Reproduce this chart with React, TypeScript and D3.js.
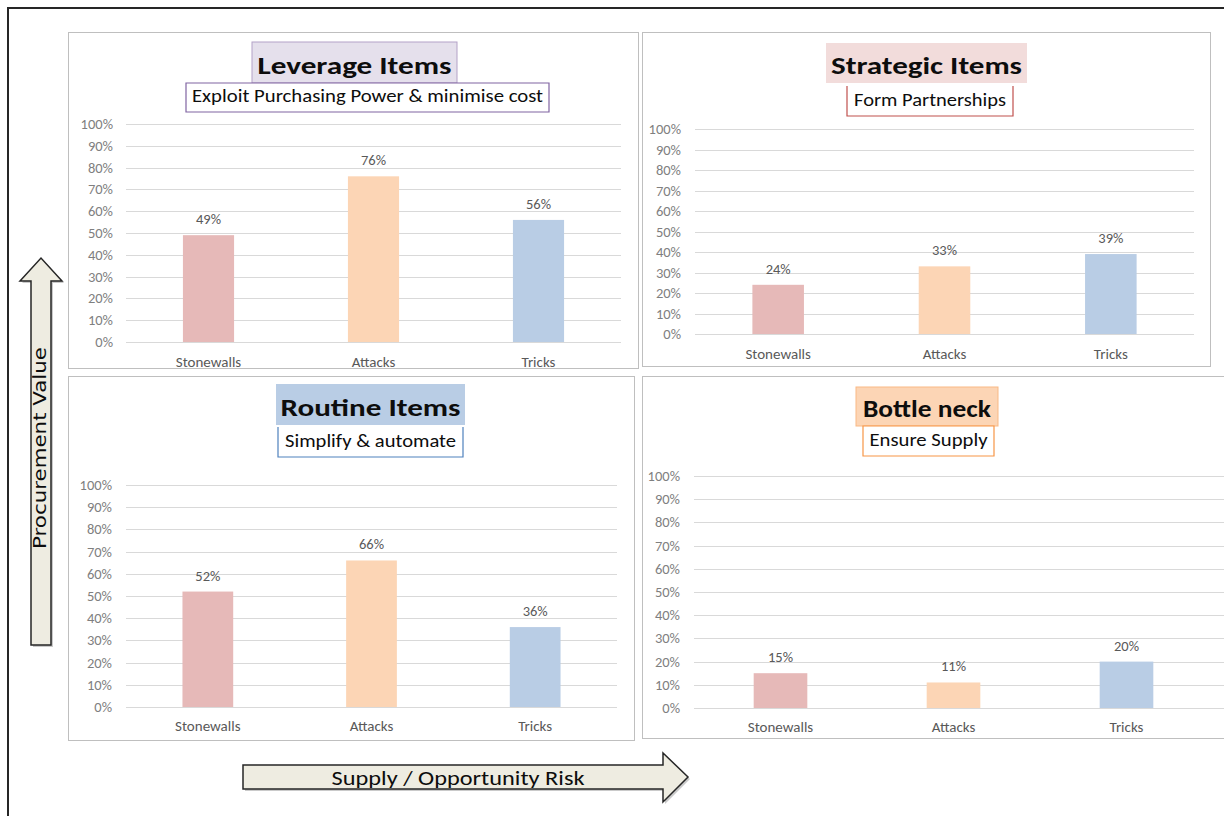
import React from "react";
import * as d3 from "d3";

const categories = ["Stonewalls", "Attacks", "Tricks"];
const leverageValues = [0.49, 0.76, 0.56];
const strategicValues = [0.24, 0.33, 0.39];
const routineValues = [0.52, 0.66, 0.36];
const bottleneckValues = [0.15, 0.11, 0.2];
const barColors = ["#e6b9b8", "#fcd5b5", "#b9cde5"];
const yAxisTitle = "Procurement Value";
const xAxisTitle = "Supply / Opportunity Risk";

const FONT = "Carlito, Lato, 'Open Sans', sans-serif";

type Panel = {
  title: string;
  subtitle: string;
  values: number[];
  box: [number, number, number, number];
  titleBox: [number, number, number, number];
  subBox: [number, number, number, number];
  titleW: number;
  subW: number;
  titleFill: string;
  titleStroke: string | null;
  subStroke: string;
  subTop: boolean;
  plot: { x0: number; x1: number; y0: number; y1: number; gridEnd: number; tickX: number; catY: number };
};

const panels: Panel[] = [
  {
    title: "Leverage Items",
    subtitle: "Exploit Purchasing Power & minimise cost",
    values: leverageValues,
    box: [68, 32, 638, 368],
    titleBox: [252, 42, 457, 83],
    subBox: [186, 83, 549, 112],
    titleW: 194,
    subW: 351,
    titleFill: "#e5e0ec",
    titleStroke: "#b3a2c7",
    subStroke: "#8064a2",
    subTop: true,
    plot: { x0: 126, x1: 621, y0: 342, y1: 124, gridEnd: 621, tickX: 113, catY: 367 },
  },
  {
    title: "Strategic Items",
    subtitle: "Form Partnerships",
    values: strategicValues,
    box: [642, 32, 1210, 366],
    titleBox: [826, 43, 1027, 83],
    subBox: [847, 86, 1013, 116],
    titleW: 191,
    subW: 152,
    titleFill: "#f2dcdb",
    titleStroke: null,
    subStroke: "#c0504d",
    subTop: false,
    plot: { x0: 695, x1: 1194, y0: 334, y1: 129, gridEnd: 1194, tickX: 681, catY: 359 },
  },
  {
    title: "Routine Items",
    subtitle: "Simplify & automate",
    values: routineValues,
    box: [68, 376, 634, 740],
    titleBox: [276, 384, 465, 425],
    subBox: [278, 427, 463, 457],
    titleW: 180,
    subW: 171,
    titleFill: "#b9cde5",
    titleStroke: null,
    subStroke: "#4f81bd",
    subTop: false,
    plot: { x0: 126, x1: 617, y0: 707, y1: 485, gridEnd: 617, tickX: 112, catY: 731 },
  },
  {
    title: "Bottle neck",
    subtitle: "Ensure Supply",
    values: bottleneckValues,
    box: [642, 376, 1240, 738],
    titleBox: [856, 387, 998, 426],
    subBox: [863, 426, 994, 456],
    titleW: 128,
    subW: 118,
    titleFill: "#fcd5b5",
    titleStroke: "#f9b985",
    subStroke: "#f79646",
    subTop: true,
    plot: { x0: 694, x1: 1213, y0: 708, y1: 476, gridEnd: 1230, tickX: 680, catY: 732 },
  },
];

function ChartPanel({ p }: { p: Panel }) {
  const { plot } = p;
  const x = d3.scaleBand<string>().domain(categories).range([plot.x0, plot.x1]).paddingInner(0.69).paddingOuter(0.345);
  const y = d3.scaleLinear().domain([0, 1]).range([plot.y0, plot.y1]);
  const ticks = y.ticks(10);
  const fmt = d3.format(".0%");
  const [bx0, by0, bx1, by1] = p.box;
  const [tx0, ty0, tx1, ty1] = p.titleBox;
  const [sx0, sy0, sx1, sy1] = p.subBox;
  const subPath = p.subTop
    ? `M${sx0},${sy0}H${sx1}V${sy1}H${sx0}Z`
    : `M${sx0},${sy0}V${sy1}H${sx1}V${sy0}`;
  return (
    <g>
      <rect x={bx0 + 0.5} y={by0 + 0.5} width={bx1 - bx0} height={by1 - by0} fill="#fff" stroke="#bfbfbf" strokeWidth={1} />
      {ticks.map((t) => (
        <g key={t}>
          <line x1={plot.x0} x2={plot.gridEnd} y1={Math.round(y(t)) + 0.5} y2={Math.round(y(t)) + 0.5} stroke="#d9d9d9" strokeWidth={1} />
          <text x={plot.tickX} y={y(t) + 5} textAnchor="end" fontSize={14.5} fill="#7f7f7f" fontFamily={FONT}>
            {fmt(t)}
          </text>
        </g>
      ))}
      {categories.map((c, i) => (
        <g key={c}>
          <rect x={x(c)} y={y(p.values[i])} width={x.bandwidth()} height={y(0) - y(p.values[i])} fill={barColors[i]} />
          <text x={(x(c) as number) + x.bandwidth() / 2} y={y(p.values[i]) - 11} textAnchor="middle" fontSize={14.5} fill="#595959" fontFamily={FONT}>
            {fmt(p.values[i])}
          </text>
          <text x={(x(c) as number) + x.bandwidth() / 2} y={plot.catY} textAnchor="middle" fontSize={15} fill="#595959" fontFamily={FONT}>
            {c}
          </text>
        </g>
      ))}
      <rect x={tx0} y={ty0} width={tx1 - tx0} height={ty1 - ty0} fill={p.titleFill} stroke={p.titleStroke || "none"} strokeWidth={1} />
      <text
        x={(tx0 + tx1) / 2}
        y={ty1 - 9}
        textAnchor="middle"
        fontSize={24}
        fontWeight="bold"
        fill="#0d0d0d"
        fontFamily={FONT}
        textLength={p.titleW}
        lengthAdjust="spacingAndGlyphs"
      >
        {p.title}
      </text>
      <rect x={sx0} y={sy0} width={sx1 - sx0} height={sy1 - sy0} fill="#fff" />
      <path d={subPath} fill="none" stroke={p.subStroke} strokeWidth={1.2} />
      <text
        x={(sx0 + sx1) / 2}
        y={sy1 - 10}
        textAnchor="middle"
        fontSize={17.5}
        fill="#0d0d0d"
        fontFamily={FONT}
        textLength={p.subW}
        lengthAdjust="spacingAndGlyphs"
      >
        {p.subtitle}
      </text>
    </g>
  );
}

export default function App() {
  const W = 1224;
  const H = 816;
  const upArrow = "M31,645 V281 H20 L41,258 L62,281 H51 V645 Z";
  const rightArrow = "M243,765 H663 V753 L688,777 L663,802 V789 H243 Z";
  return (
    <svg width={W} height={H} style={{ position: "absolute", left: 0, top: 0 }}>
      <rect x={0} y={0} width={W} height={H} fill="#fff" />
      <path d={`M8,${H} V8 H${W}`} fill="none" stroke="#262626" strokeWidth={2} />
      {panels.map((p) => (
        <ChartPanel key={p.title} p={p} />
      ))}
      <path d={upArrow} transform="translate(2,2)" fill="#a6a6a6" opacity={0.6} />
      <path d={upArrow} fill="#eeece1" stroke="#262626" strokeWidth={1.5} />
      <text
        transform="translate(46,448) rotate(-90)"
        textAnchor="middle"
        fontSize={17}
        fill="#0d0d0d"
        fontFamily="'DejaVu Sans', Verdana, sans-serif"
        textLength={202}
        lengthAdjust="spacingAndGlyphs"
      >
        {yAxisTitle}
      </text>
      <path d={rightArrow} transform="translate(2,2)" fill="#a6a6a6" opacity={0.6} />
      <path d={rightArrow} fill="#eeece1" stroke="#262626" strokeWidth={1.5} />
      <text
        x={458}
        y={785}
        textAnchor="middle"
        fontSize={20}
        fill="#0d0d0d"
        fontFamily={FONT}
        textLength={253}
        lengthAdjust="spacingAndGlyphs"
      >
        {xAxisTitle}
      </text>
    </svg>
  );
}
